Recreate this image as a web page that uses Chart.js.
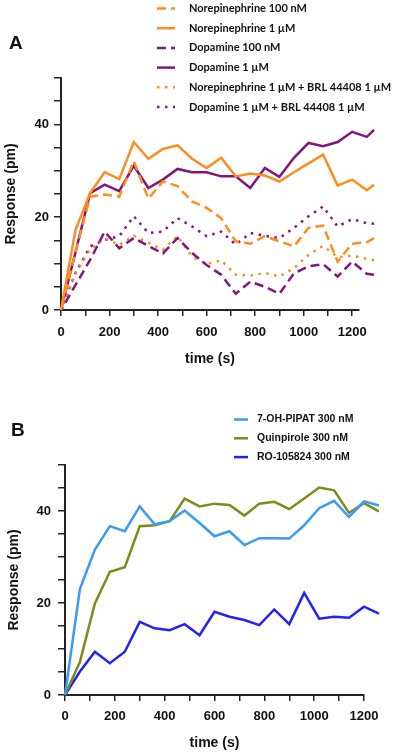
<!DOCTYPE html>
<html>
<head>
<meta charset="utf-8">
<script src="https://cdn.jsdelivr.net/npm/chart.js@4.4.1/dist/chart.umd.min.js"></script>
<style>
  body { margin: 0; background: #fff; }
  #page { position: relative; width: 400px; height: 754px; overflow: hidden; }
  .panel { position: absolute; left: 0; }
  .tag { position: absolute; font: bold 19px "Liberation Sans", Arial, sans-serif; color: #111; }
</style>
</head>
<body>
<div id="page">
  <div class="panel" style="top:0"><canvas id="chartA" width="400" height="372"></canvas></div>
  <div class="panel" style="top:375px"><canvas id="chartB" width="400" height="379"></canvas></div>
  <div class="tag" style="left:9px;top:32px">A</div>
  <div class="tag" style="left:11px;top:419px">B</div>
</div>
<script>
// Panel A: time (s) and response (pm)
const timesA = [0, 60, 120, 180, 240, 300, 360, 420, 480, 540, 600, 660, 720, 780, 840, 900, 960, 1020, 1080, 1140, 1200, 1260, 1290];
const norepi100 = [0, 12.5, 24.4, 24.9, 24.4, 32.1, 24.0, 27.7, 26.7, 23.4, 22.0, 19.8, 14.8, 14.3, 15.9, 14.8, 13.7, 17.7, 18.2, 10.4, 14.3, 14.6, 15.5];
const norepi1 = [0, 17.3, 25.2, 29.7, 28.2, 36.2, 32.6, 34.7, 35.5, 32.6, 30.6, 32.8, 28.8, 29.4, 29.0, 27.7, 29.7, 31.6, 33.5, 26.8, 28.1, 25.8, 27.0];
const dopa100 = [0, 5.4, 10.8, 16.9, 13.3, 15.5, 13.8, 12.2, 15.5, 12.3, 9.7, 7.6, 3.5, 6.1, 5.0, 3.5, 7.9, 9.4, 9.9, 7.2, 10.4, 7.8, 7.6];
const dopa1 = [0, 12.5, 25.2, 27.0, 25.6, 31.1, 26.3, 28.1, 30.4, 29.7, 29.7, 28.8, 28.8, 26.3, 30.6, 28.7, 32.8, 36.0, 35.3, 36.2, 38.4, 37.3, 38.8];
const norepiBrl = [0, 8, 13, 15.5, 14, 16, 14.5, 13, 15.9, 11.5, 9.9, 10.7, 7.6, 7.4, 8.0, 7.2, 9.0, 11.9, 13.8, 11.4, 11.7, 11.0, 10.7];
const dopaBrl = [0, 8, 13.7, 15.1, 15.9, 20.2, 16.6, 16.9, 19.8, 18.0, 15.9, 16.9, 14.1, 16.6, 16.0, 15.5, 17.7, 20.2, 22.3, 18.0, 19.6, 18.7, 18.6];

// Panel B
const timesB = [0, 60, 120, 180, 240, 300, 360, 420, 480, 540, 600, 660, 720, 780, 840, 900, 960, 1020, 1080, 1140, 1200, 1260];
const pipat = [0, 23.1, 31.6, 36.7, 35.6, 41.0, 37.1, 37.8, 40.1, 37.4, 34.5, 35.6, 32.6, 34.1, 34.1, 34.0, 36.9, 40.6, 42.2, 38.7, 42.1, 41.2];
const quinpirole = [0, 7.2, 19.9, 26.8, 27.8, 36.7, 36.9, 37.8, 42.7, 41.0, 41.6, 41.3, 39.0, 41.6, 42.0, 40.4, 42.7, 45.1, 44.5, 39.6, 41.7, 39.9];
const ro105824 = [0, 5.1, 9.4, 6.9, 9.4, 15.9, 14.5, 14.1, 15.4, 13.0, 18.1, 17.0, 16.3, 15.2, 18.6, 15.4, 22.2, 16.6, 17.0, 16.8, 19.2, 17.7];

const orange = '#FF8C21';
const purple = '#82167F';

// points are handed over last-first: same polyline, but Chart.js then keeps
// the samples that lie past the end of the x axis (as in the original figure)
function toPoints(xs, ys) {
    return ys.map((y, i) => ({ x: xs[i], y: y })).reverse();
}

// legend beside the plot, drawn with each dataset's own line style
const sideLegend = {
    id: 'sideLegend',
    afterDraw(chart, args, opts) {
        const ctx = chart.ctx;
        ctx.save();
        chart.data.datasets.forEach((ds, i) => {
            const y = opts.y + i * opts.dy;
            ctx.strokeStyle = ds.borderColor;
            ctx.lineWidth = ds.borderWidth;
            ctx.setLineDash(ds.borderDash || []);
            ctx.beginPath();
            ctx.moveTo(opts.x, y);
            ctx.lineTo(opts.x + opts.len, y);
            ctx.stroke();
            ctx.setLineDash([]);
            ctx.fillStyle = '#111';
            ctx.font = opts.font;
            ctx.textBaseline = 'middle';
            ctx.fillText(ds.label, opts.textX, y);
        });
        ctx.restore();
    }
};

function axes(s) {
    const tickFont = { family: '"Liberation Sans", Arial', weight: 'bold', size: s.tickSize };
    const titleFont = { family: '"Liberation Sans", Arial', weight: 'bold', size: 14 };
    return {
        x: {
            type: 'linear', min: 0, max: s.xMax,
            afterBuildTicks: sc => { sc.ticks = sc.ticks.filter(t => t.value % 100 === 0); },
            afterFit: sc => { sc.height = s.xH; },
            ticks: {
                stepSize: 100, includeBounds: false, autoSkip: false, maxRotation: 0, padding: s.xPad, color: '#111', font: tickFont,
                callback: v => (v % 200 === 0 ? v : '')
            },
            grid: { drawOnChartArea: false, tickLength: 6, color: '#222', lineWidth: 1.5 },
            border: { color: '#222', width: 2 },
            title: { display: true, text: 'time (s)', color: '#111', font: titleFont, padding: { top: 0, bottom: s.xTitlePad } }
        },
        y: {
            min: 0, max: 50,
            afterFit: sc => { sc.width = s.yW; },
            ticks: {
                stepSize: 5, padding: s.yPad, color: '#111', font: tickFont,
                callback: v => (v % 20 === 0 ? v : '')
            },
            grid: { drawOnChartArea: false, tickLength: 7, color: '#222', lineWidth: 1.5 },
            border: { color: '#222', width: 2 },
            title: { display: true, text: 'Response (pm)', color: '#111', font: titleFont, padding: { top: s.yTitlePad, bottom: 0 } }
        }
    };
}

const lineDefaults = { borderWidth: 2.5, pointRadius: 0, tension: 0, fill: false, clip: false };
const dashed = [9, 5];
const dotted = [2.5, 5.5];

// Panel A
new Chart(document.getElementById('chartA').getContext('2d'), {
    type: 'line',
    data: {
        datasets: [
            { label: 'Norepinephrine 100 nM', data: toPoints(timesA, norepi100), borderColor: orange, borderDash: dashed, ...lineDefaults },
            { label: 'Norepinephrine 1 µM', data: toPoints(timesA, norepi1), borderColor: orange, ...lineDefaults },
            { label: 'Dopamine 100 nM', data: toPoints(timesA, dopa100), borderColor: purple, borderDash: dashed, ...lineDefaults },
            { label: 'Dopamine 1 µM', data: toPoints(timesA, dopa1), borderColor: purple, ...lineDefaults },
            { label: 'Norepinephrine 1 µM + BRL 44408 1 µM', data: toPoints(timesA, norepiBrl), borderColor: orange, borderDash: dotted, ...lineDefaults },
            { label: 'Dopamine 1 µM + BRL 44408 1 µM', data: toPoints(timesA, dopaBrl), borderColor: purple, borderDash: dotted, ...lineDefaults }
        ]
    },
    options: {
        responsive: false,
        animation: false,
        layout: { padding: { top: 78, right: 41, left: 0, bottom: 0 } },
        plugins: {
            legend: { display: false },
            tooltip: { enabled: false },
            sideLegend: { x: 157, len: 18, textX: 189, y: 8.5, dy: 19.7, font: 'bold 11px Lato, sans-serif' }
        },
        scales: axes({ xMax: 1228, xH: 62, xPad: 9, xTitlePad: 4, yW: 61, yPad: 5, yTitlePad: 3, tickSize: 13 })
    },
    plugins: [sideLegend]
});

// Panel B
new Chart(document.getElementById('chartB').getContext('2d'), {
    type: 'line',
    data: {
        datasets: [
            { label: '7-OH-PIPAT 300 nM', data: toPoints(timesB, pipat), borderColor: '#3A9BF2', ...lineDefaults },
            { label: 'Quinpirole 300 nM', data: toPoints(timesB, quinpirole), borderColor: '#7E8A1C', ...lineDefaults },
            { label: 'RO-105824 300 nM', data: toPoints(timesB, ro105824), borderColor: '#2222F2', ...lineDefaults }
        ]
    },
    options: {
        responsive: false,
        animation: false,
        layout: { padding: { top: 90, right: 36, left: 0, bottom: 0 } },
        plugins: {
            legend: { display: false },
            tooltip: { enabled: false },
            sideLegend: { x: 234, len: 14, textX: 257, y: 44.5, dy: 18.8, font: 'bold 10.5px "Liberation Sans", Arial, sans-serif' }
        },
        scales: axes({ xMax: 1200, xH: 59, xPad: 8, xTitlePad: 2, yW: 65, yPad: 7, yTitlePad: 6, tickSize: 13 })
    },
    plugins: [sideLegend]
});
</script>
</body>
</html>
